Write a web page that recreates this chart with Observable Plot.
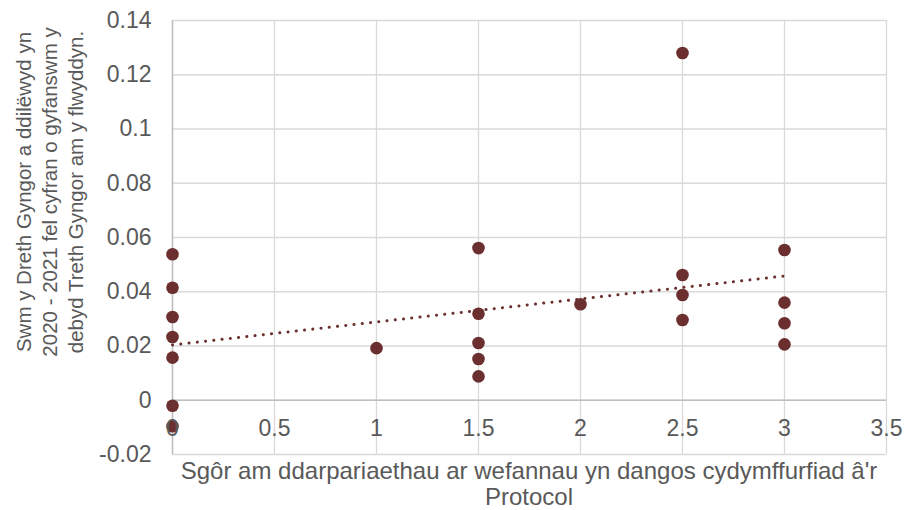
<!DOCTYPE html>
<html>
<head>
<meta charset="utf-8">
<script src="https://cdn.jsdelivr.net/npm/d3@7"></script>
<script src="https://cdn.jsdelivr.net/npm/@observablehq/plot@0.6"></script>
<style>
  html, body { margin: 0; padding: 0; background: #fff; }
  #chart { width: 904px; height: 510px; }
  svg { font-family: "Liberation Sans", Arial, sans-serif; }
</style>
</head>
<body>
<div id="chart"></div>
<script>
// Data
const xScores = [0, 0, 0, 0, 0, 0, 0, 1, 1.5, 1.5, 1.5, 1.5, 1.5, 2, 2.5, 2.5, 2.5, 2.5, 3, 3, 3, 3];
const yShares = [0.0538, 0.0415, 0.0307, 0.0233, 0.0157, -0.002, -0.0096, 0.0192,
                 0.0561, 0.0319, 0.0211, 0.0152, 0.0088, 0.0354,
                 0.128, 0.0462, 0.0388, 0.0296,
                 0.0554, 0.036, 0.0284, 0.0206];
const xTicks = [0, 0.5, 1, 1.5, 2, 2.5, 3, 3.5];
const yTicks = [-0.02, 0, 0.02, 0.04, 0.06, 0.08, 0.1, 0.12, 0.14];
const xTitle = ["Sgôr am ddarpariaethau ar wefannau yn dangos cydymffurfiad â'r", "Protocol"];
const yTitle = ["Swm y Dreth Gyngor a ddilëwyd yn", "2020 - 2021 fel cyfran o gyfanswm y", "debyd Treth Gyngor am y flwyddyn."];

const data = xScores.map((x, i) => ({x, y: yShares[i]}));
const color = "#6b2f30";
const textColor = "#595959";

const W = 904, H = 510;
const mL = 172, mR = 18, mT = 20, mB = 56;

const plot = Plot.plot({
  width: W,
  height: H,
  marginLeft: mL,
  marginRight: mR,
  marginTop: mT,
  marginBottom: mB,
  style: {fontFamily: "'Liberation Sans', Arial, sans-serif", fontSize: "23px", color: textColor, background: "#fff"},
  x: {domain: [0, 3.5], ticks: xTicks, axis: null},
  y: {domain: [-0.02, 0.14], ticks: yTicks, axis: null},
  marks: [
    Plot.gridX(xTicks, {stroke: "#d9d9d9", strokeOpacity: 1, strokeWidth: 1.3}),
    Plot.gridY(yTicks, {stroke: "#d9d9d9", strokeOpacity: 1, strokeWidth: 1.3}),
    Plot.ruleY([0], {stroke: "#bfbfbf", strokeWidth: 1.5}),
    Plot.ruleX([0], {stroke: "#bfbfbf", strokeWidth: 1.5}),
    Plot.axisY(yTicks, {tickSize: 0, tickPadding: 21, fontSize: 23, fill: textColor, tickFormat: d => String(+d.toFixed(2)), label: null}),
    Plot.linearRegressionY(data, {x: "x", y: "y", ci: 0, stroke: color, strokeWidth: 3, strokeDasharray: "0.1 8.2", strokeLinecap: "round"}),
    Plot.dot(data, {x: "x", y: "y", r: 6.3, fill: color, stroke: "none"}),
    Plot.text(xTicks, {x: d => d, y: () => 0, dy: 28, text: d => String(d), fontSize: 23, fill: textColor, textAnchor: "middle"})
  ]
});

const svg = d3.select(plot);
svg.append("g")
  .attr("fill", textColor)
  .style("font-size", "24px")
  .attr("text-anchor", "middle")
  .selectAll("text")
  .data(xTitle)
  .join("text")
  .attr("x", (mL + W - mR) / 2)
  .attr("y", (d, i) => 479 + i * 26)
  .text(d => d);

svg.append("g")
  .attr("fill", textColor)
  .style("font-size", "20.5px")
  .attr("text-anchor", "middle")
  .selectAll("text")
  .data(yTitle)
  .join("text")
  .attr("transform", (d, i) => `translate(${24 + i * 26},192) rotate(-90)`)
  .attr("dy", "0.35em")
  .text(d => d);

document.getElementById("chart").appendChild(plot);
</script>
</body>
</html>
